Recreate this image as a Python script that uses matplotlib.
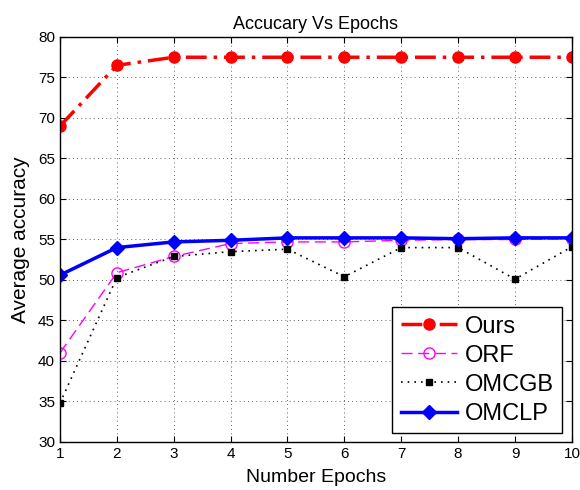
import matplotlib
matplotlib.use("Agg")
import matplotlib.pyplot as plt

plt.rcParams['font.family'] = ['Liberation Sans', 'DejaVu Sans']

epochs = [1, 2, 3, 4, 5, 6, 7, 8, 9, 10]
ours = [69.0, 76.5, 77.5, 77.5, 77.5, 77.5, 77.5, 77.5, 77.5, 77.5]
orf = [41.0, 50.9, 52.9, 54.5, 54.7, 54.7, 54.9, 55.0, 55.0, 55.1]
omcgb = [34.8, 50.3, 52.9, 53.5, 53.8, 50.4, 54.0, 54.0, 50.1, 54.1]
omclp = [50.6, 54.0, 54.7, 54.9, 55.2, 55.2, 55.2, 55.1, 55.2, 55.2]
yticks = [30, 35, 40, 45, 50, 55, 60, 65, 70, 75, 80]

fig = plt.figure(figsize=(5.8, 4.9), dpi=100)
ax = fig.add_axes([0.1034, 0.098, 0.8826, 0.8265])

ax.plot(epochs, ours, color='red', linestyle=(0, (6, 2, 1, 2)), linewidth=2.5,
        marker='o', markersize=8, label='Ours')
ax.plot(epochs, orf, color='magenta', linestyle=(0, (8, 4)), linewidth=1,
        marker='o', markersize=8, markerfacecolor='none', markeredgecolor='magenta',
        label='ORF')
ax.plot(epochs, omcgb, color='black', linestyle=(0, (1, 3)), linewidth=1.2,
        marker='s', markersize=5, label='OMCGB')
ax.plot(epochs, omclp, color='blue', linestyle='-', linewidth=2.5,
        marker='D', markersize=7, label='OMCLP')

ax.set_xlim(1, 10)
ax.set_ylim(30, 80)
ax.set_xticks(epochs)
ax.set_yticks(yticks)
ax.tick_params(direction='in', top=True, right=True, labelsize=11, length=4)
ax.grid(True, color='black', linestyle=(0, (1, 4)), linewidth=0.6, alpha=0.8)
for s in ax.spines.values():
    s.set_linewidth(1.0)

ax.set_title('Accucary Vs Epochs', fontsize=13)
ax.set_xlabel('Number Epochs', fontsize=14, labelpad=6)
ax.set_ylabel('Average accuracy', fontsize=15, labelpad=6)

leg = ax.legend(loc='lower right', fontsize=17, fancybox=False, framealpha=1,
                edgecolor='black', handlelength=2.4, borderpad=0.35,
                labelspacing=0.3, handletextpad=0.3, borderaxespad=0,
                bbox_to_anchor=(0.98, 0.022))
leg.get_frame().set_linewidth(1.0)

fig.savefig('out.png', dpi=100)
